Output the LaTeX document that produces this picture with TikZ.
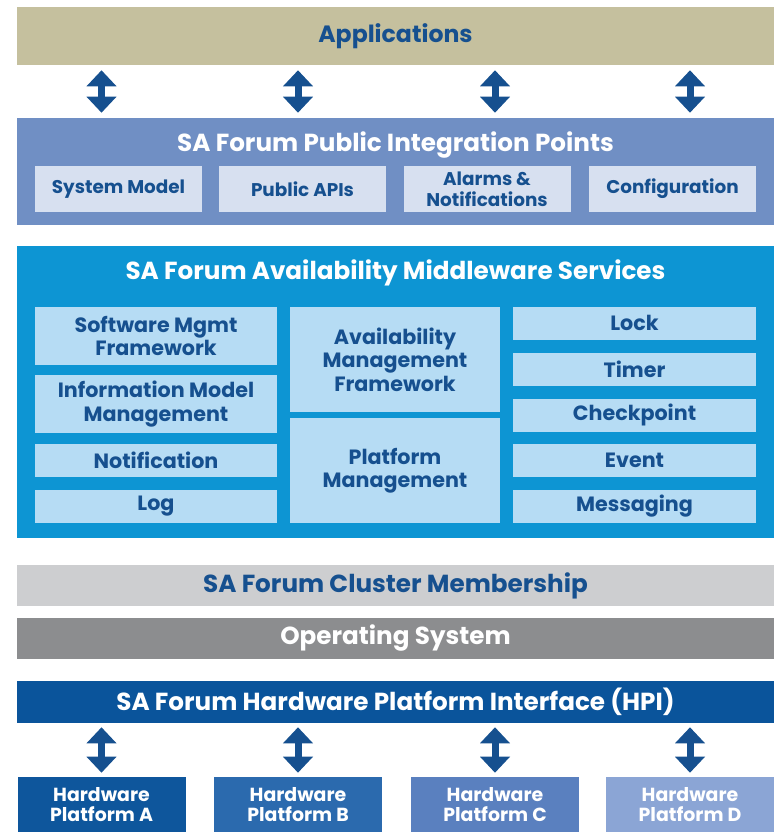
\documentclass[tikz,border=0pt]{standalone}
\usepackage{fontspec}
\setmainfont{Poppins}
\usetikzlibrary{arrows.meta, positioning}
\newdimen\px \px=0.75pt
\definecolor{navy}{HTML}{16508F}
\definecolor{appcol}{HTML}{C5C09E}
\definecolor{pipcol}{HTML}{708FC4}
\definecolor{pipsub}{HTML}{D7E0F0}
\definecolor{mwcol}{HTML}{0D95D3}
\definecolor{mwsub}{HTML}{B6DCF4}
\definecolor{clmcol}{HTML}{CDCED0}
\definecolor{oscol}{HTML}{8C8D8F}
\definecolor{hpicol}{HTML}{0A549B}
\definecolor{hwAcol}{HTML}{0E569C}
\definecolor{hwBcol}{HTML}{2B6AAE}
\definecolor{hwCcol}{HTML}{5A80BF}
\definecolor{hwDcol}{HTML}{8BA5D5}
\tikzset{
  layer/.style={rectangle, inner sep=0pt, minimum width=757\px,
                minimum height=#1\px, align=center,
                font=\bfseries\fontsize{18.5}{21}\selectfont},
  layer/.default=42,
  title/.style={inner sep=0pt, font=\bfseries\fontsize{18.5}{21}\selectfont},
  pipbox/.style={rectangle, fill=pipsub, text=navy, inner sep=0pt,
                 minimum width=167\px, minimum height=46\px, align=center,
                 font=\bfseries\fontsize{13.8}{15.5}\selectfont},
  mwbox/.style={rectangle, fill=mwsub, text=navy, inner sep=0pt,
                minimum height=#1\px, align=center,
                font=\bfseries\fontsize{15.5}{17.5}\selectfont},
  hwbox/.style={rectangle, fill=#1, text=white, inner sep=0pt,
                minimum width=168\px, minimum height=56\px, align=center,
                font=\bfseries\fontsize{14.2}{15}\selectfont},
  dblarrow/.style={draw=navy, line width=5.25pt,
                   {Triangle[width=21.75pt,length=12pt]}-{Triangle[width=21.75pt,length=12pt]},
                   shorten <=#1, shorten >=#1},
  dblarrow/.default=3.75pt,
}
\begin{document}
\begin{tikzpicture}[x=0.75pt, y=-0.75pt]
\useasboundingbox (0,0) rectangle (776,832);

% applications and public integration points
\node[layer=58, fill=appcol, text=navy, font=\bfseries\fontsize{17.7}{21}\selectfont]
  (apps) at (395.5,36) {Applications};
\node[layer=107, fill=pipcol] (pip) at (395.5,171.5) {};
\node[title, text=white] (piptitle) at (395.5,145) {SA Forum Public Integration Points};
\node[pipbox] (sysmodel) at (118.5,189) {System Model};
\node[pipbox] (pubapi) at (302.5,189) {Public APIs};
\node[pipbox] (alarms) at (487,189) {Alarms \&\\Notifications};
\node[pipbox] (config) at (672.5,189) {Configuration};

% middleware services
\node[layer=292, fill=mwcol] (mw) at (395.5,392) {};
\node[title, text=white] (mwtitle) at (395.5,273) {SA Forum Availability Middleware Services};

\node[mwbox=58, minimum width=242\px] (swmgmt) at (156,336) {Software Mgmt\\Framework};
\node[mwbox=58, minimum width=242\px] (imm) at (156,404) {Information Model\\Management};
\node[mwbox=33, minimum width=242\px] (notif) at (156,460.5) {Notification};
\node[mwbox=33, minimum width=242\px] (log) at (156,506.5) {Log};

\node[mwbox=105, minimum width=210\px] (amf) at (395,359.5) {Availability\\Management\\Framework};
\node[mwbox=105, minimum width=210\px] (plm) at (395,470.5) {Platform\\Management};

\node[mwbox=33, minimum width=243\px] (lock) at (634.5,323) {Lock};
\node[mwbox=33, minimum width=243\px] (timer) at (634.5,369.5) {Timer};
\node[mwbox=33, minimum width=243\px] (ckpt) at (634.5,415) {Checkpoint};
\node[mwbox=33, minimum width=243\px] (event) at (634.5,460.5) {Event};
\node[mwbox=33, minimum width=243\px] (msg) at (634.5,506.5) {Messaging};

% lower layers
\node[layer=41, fill=clmcol, text=navy] (clm) at (395.5,585.5) {SA Forum Cluster Membership};
\node[layer=41, fill=oscol, text=white] (os) at (395.5,638.5) {Operating System};
\node[layer=42, fill=hpicol, text=white] (hpi) at (395.5,702) {SA Forum Hardware Platform Interface (HPI)};

% hardware platforms
\node[hwbox=hwAcol] (hwA) at (101.5,805) {Hardware\\Platform A};
\node[hwbox=hwBcol] (hwB) at (298,805) {Hardware\\Platform B};
\node[hwbox=hwCcol] (hwC) at (495,805) {Hardware\\Platform C};
\node[hwbox=hwDcol] (hwD) at (690,805) {Hardware\\Platform D};

% arrows applications <-> integration points
\draw[dblarrow] (apps.south -| hwA) -- (pip.north -| hwA);
\draw[dblarrow] (apps.south -| hwB) -- (pip.north -| hwB);
\draw[dblarrow] (apps.south -| hwC) -- (pip.north -| hwC);
\draw[dblarrow] (apps.south -| hwD) -- (pip.north -| hwD);

% arrows HPI <-> hardware
\draw[dblarrow=3pt] (hpi.south -| hwA) -- (hwA.north);
\draw[dblarrow=3pt] (hpi.south -| hwB) -- (hwB.north);
\draw[dblarrow=3pt] (hpi.south -| hwC) -- (hwC.north);
\draw[dblarrow=3pt] (hpi.south -| hwD) -- (hwD.north);

\end{tikzpicture}
\end{document}
